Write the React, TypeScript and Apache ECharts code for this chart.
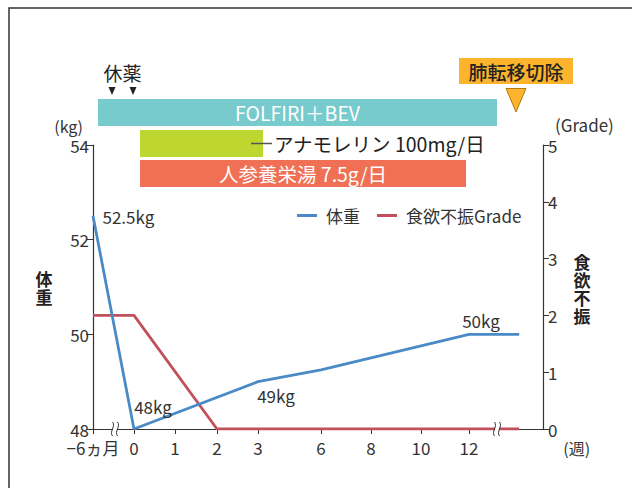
import React, { useEffect, useRef } from "react";
import * as echarts from "echarts";

// Non-linear (broken) time axis: display positions of each tick along the axis
const xTickLabels = ["−6ヵ月", "0", "1", "2", "3", "6", "8", "10", "12"];
const xTickPos = [0, 41, 82, 124, 165, 228, 278, 328, 376];
const xAxisMax = 450;
const breakPos = [22, 404];

// 体重 (kg)
const weightX = [0, 41, 165, 228, 376, 426];
const weightKg = [52.5, 48, 49, 49.25, 50, 50];
const weightLabels = ["52.5kg", "48kg", "49kg", "", "50kg", ""];

// 食欲不振 Grade
const gradeX = [0, 41, 124, 426];
const gradeVal = [2, 2, 0, 0];

// Treatment bars
const regimenNames = ["FOLFIRI＋BEV", "アナモレリン 100mg/日", "人参養栄湯 7.5g/日"];
const regimenStart = [5, 47, 47];
const regimenEnd = [404, 170, 373];

// Events
const restLabel = "休薬";
const restMarks = [19, 40];
const surgeryLabel = "肺転移切除";
const surgeryPos = [423];

// Axis titles (vertical)
const leftTitle = ["体", "重"];
const rightTitle = ["食", "欲", "不", "振"];

const FONT = '"Noto Sans CJK JP", "Noto Sans", sans-serif';
const TXT = "#333";
const regimenColors = ["#78cbcd", "#bed630", "#f07055"];
const rowTop = [99, 130, 160];
const rowH = 27;

const labelLayout: any[] = [
  { position: "right", distance: 9, offset: [0, 0] },
  { position: "top", distance: 5, offset: [19, -9] },
  { position: "bottom", distance: 5, offset: [18, 0] },
  null,
  { position: "top", distance: 5, offset: [12, 0] },
  null,
];

const verticalText = (chars: string[], cx: number, cy: number) => {
  const step = 18;
  const start = cy - ((chars.length - 1) * step) / 2;
  return chars.map((c, i) => ({
    type: "text",
    silent: true,
    style: {
      text: c,
      x: cx,
      y: start + i * step,
      fill: "#222",
      fontSize: 17,
      fontWeight: "bold",
      lineHeight: 17,
      fontFamily: FONT,
      align: "center",
      verticalAlign: "middle",
      textAlign: "center",
      textVerticalAlign: "middle",
    },
  }));
};

export default function App() {
  const ref = useRef<HTMLDivElement>(null);
  useEffect(() => {
    if (!ref.current) return;
    const chart = echarts.init(ref.current, undefined, { renderer: "svg" });

    const weightData = weightX.map((x, i) => {
      const l = labelLayout[i];
      return {
        value: [x, weightKg[i]],
        label: l
          ? {
              show: true,
              formatter: weightLabels[i],
              position: l.position,
              distance: l.distance,
              offset: l.offset,
              color: TXT,
              fontSize: 17,
              lineHeight: 17,
              fontFamily: FONT,
            }
          : { show: false },
      };
    });

    const txtStyle = (extra: any) => ({
      fontSize: 19.5,
      fontFamily: FONT,
      align: "center",
      verticalAlign: "middle",
      textAlign: "center",
      textVerticalAlign: "middle",
      ...extra,
    });

    const option: any = {
      animation: false,
      textStyle: { fontFamily: FONT, color: TXT },
      grid: { left: 93, right: 89, top: 145, bottom: 59, containLabel: false },
      legend: {
        data: ["体重", "食欲不振Grade"],
        left: 292,
        top: 202,
        icon: "rect",
        itemWidth: 20,
        itemHeight: 3,
        itemGap: 17,
        textStyle: { fontSize: 17, color: TXT, fontFamily: FONT, padding: [0, 0, 0, 4] },
      },
      xAxis: {
        type: "value",
        min: 0,
        max: xAxisMax,
        name: "(週)",
        nameLocation: "end",
        nameGap: 7,
        nameTextStyle: {
          fontSize: 16,
          color: TXT,
          align: "center",
          verticalAlign: "top",
          lineHeight: 15,
          padding: [11, 0, 0, 0],
        },
        axisLine: { show: true, lineStyle: { color: TXT, width: 1.2 } },
        axisTick: { show: true, customValues: xTickPos, length: 5, lineStyle: { color: TXT } },
        axisLabel: {
          customValues: xTickPos,
          formatter: (v: number) => {
            const i = xTickPos.indexOf(v);
            return i >= 0 ? xTickLabels[i] : "";
          },
          fontSize: 17,
          lineHeight: 14,
          color: TXT,
          margin: 11,
        },
        splitLine: { show: false },
      },
      yAxis: [
        {
          type: "value",
          min: 48,
          max: 54,
          interval: 2,
          position: "left",
          name: "(kg)",
          nameLocation: "end",
          nameGap: 12,
          nameTextStyle: { fontSize: 16, lineHeight: 14, color: TXT, align: "right", padding: [0, 10, 0, 0] },
          axisLine: { show: true, lineStyle: { color: TXT, width: 1.2 } },
          axisTick: { show: true, length: 7, lineStyle: { color: TXT } },
          axisLabel: { fontSize: 17, lineHeight: 14, color: TXT, margin: 4 },
          splitLine: { show: false },
        },
        {
          type: "value",
          min: 0,
          max: 5,
          interval: 1,
          position: "right",
          name: "(Grade)",
          nameLocation: "end",
          nameGap: 14,
          nameTextStyle: { fontSize: 17, lineHeight: 14, color: TXT, align: "left", padding: [0, 0, 0, 12] },
          axisLine: { show: true, lineStyle: { color: TXT, width: 1.2 } },
          axisTick: { show: true, length: 6, lineStyle: { color: TXT } },
          axisLabel: { fontSize: 17, lineHeight: 14, color: TXT, margin: 5 },
          splitLine: { show: false },
        },
      ],
      series: [
        {
          name: "食欲不振Grade",
          type: "line",
          yAxisIndex: 1,
          data: gradeX.map((x, i) => [x, gradeVal[i]]),
          symbol: "none",
          lineStyle: { color: "#c0505c", width: 2.8 },
          itemStyle: { color: "#c0505c" },
          emphasis: { disabled: true },
          z: 3,
        },
        {
          name: "体重",
          type: "line",
          yAxisIndex: 0,
          data: weightData,
          symbol: "circle",
          symbolSize: 1,
          lineStyle: { color: "#4a8ac6", width: 2.8 },
          itemStyle: { color: "#4a8ac6" },
          emphasis: { disabled: true },
          z: 4,
        },
        {
          name: "regimens",
          type: "custom",
          yAxisIndex: 0,
          clip: false,
          z: 6,
          data: regimenNames.map((n, i) => [regimenStart[i], regimenEnd[i], 48]),
          encode: { x: [0, 1], y: 2 },
          renderItem: (params: any, api: any) => {
            const i = params.dataIndex;
            const x0 = api.coord([api.value(0), 48])[0];
            const x1 = api.coord([api.value(1), 48])[0];
            const y = rowTop[i];
            const children: any[] = [
              {
                type: "rect",
                shape: { x: x0, y, width: x1 - x0, height: rowH },
                style: { fill: regimenColors[i] },
              },
            ];
            if (i === 1) {
              children.push({
                type: "line",
                shape: { x1: x1 - 12, y1: y + rowH / 2, x2: x1 + 9, y2: y + rowH / 2 },
                style: { stroke: "#555", lineWidth: 1.5 },
              });
              children.push({
                type: "text",
                style: txtStyle({
                  text: regimenNames[i],
                  x: x1 + 11,
                  y: y + rowH / 2,
                  fill: "#222",
                  align: "left",
                  textAlign: "left",
                }),
              });
            } else {
              children.push({
                type: "text",
                style: txtStyle({
                  text: regimenNames[i],
                  x: (x0 + x1) / 2,
                  y: y + rowH / 2,
                  fill: "#fff",
                }),
              });
            }
            return { type: "group", children };
          },
        },
        {
          name: "rest",
          type: "custom",
          yAxisIndex: 0,
          clip: false,
          z: 6,
          data: restMarks.map((x) => [x, 48]),
          renderItem: (params: any, api: any) => {
            const x = api.coord([api.value(0), 48])[0];
            const children: any[] = [
              {
                type: "polygon",
                shape: { points: [[x - 3.5, 87], [x + 3.5, 87], [x, 95]] },
                style: { fill: "#222" },
              },
            ];
            if (params.dataIndex === 0) {
              const xb = api.coord([(restMarks[0] + restMarks[1]) / 2, 48])[0];
              children.push({
                type: "text",
                style: txtStyle({ text: restLabel, x: xb, y: 72, fill: "#222", fontSize: 19 }),
              });
            }
            return { type: "group", children };
          },
        },
        {
          name: "surgery",
          type: "custom",
          yAxisIndex: 0,
          clip: false,
          z: 6,
          data: surgeryPos.map((x) => [x, 48]),
          renderItem: (params: any, api: any) => {
            const x = api.coord([api.value(0), 48])[0];
            return {
              type: "group",
              children: [
                {
                  type: "rect",
                  shape: { x: x - 57, y: 58, width: 114, height: 26 },
                  style: { fill: "#fbb42c" },
                },
                {
                  type: "text",
                  style: txtStyle({ text: surgeryLabel, x: x, y: 71, fill: "#222", fontSize: 19, fontWeight: 500 }),
                },
                {
                  type: "polygon",
                  shape: { points: [[x - 10, 88.5], [x + 10, 88.5], [x, 112]] },
                  style: { fill: "#fbb42c", stroke: "#b07a10", lineWidth: 1 },
                },
              ],
            };
          },
        },
        {
          name: "breaks",
          type: "custom",
          yAxisIndex: 0,
          clip: false,
          z: 8,
          data: breakPos.map((x) => [x, 48]),
          renderItem: (params: any, api: any) => {
            const p = api.coord([api.value(0), 48]);
            const x = p[0];
            const y = p[1];
            const wave = (cx: number) => ({
              type: "bezierCurve",
              shape: {
                x1: cx, y1: y - 7,
                cpx1: cx + 3.5, cpy1: y - 2.5,
                cpx2: cx - 3.5, cpy2: y + 2.5,
                x2: cx, y2: y + 7,
              },
              style: { stroke: "#333", lineWidth: 1, fill: "none" },
            });
            return {
              type: "group",
              children: [
                { type: "rect", shape: { x: x - 2, y: y - 3, width: 4, height: 6 }, style: { fill: "#fff" } },
                wave(x - 2.5),
                wave(x + 2.5),
              ],
            };
          },
        },
      ],
      graphic: [
        {
          type: "rect",
          shape: { x: 9, y: 8, width: 800, height: 700 },
          style: { fill: "none", stroke: "#333", lineWidth: 1.5 },
          silent: true,
        },
        ...verticalText(leftTitle, 44, 287),
        ...verticalText(rightTitle, 582, 288),
      ],
    };
    chart.setOption(option);
    return () => chart.dispose();
  }, []);

  return (
    <div
      ref={ref}
      style={{ position: "absolute", left: 0, top: 0, width: 632, height: 488, background: "#fff" }}
    />
  );
}
